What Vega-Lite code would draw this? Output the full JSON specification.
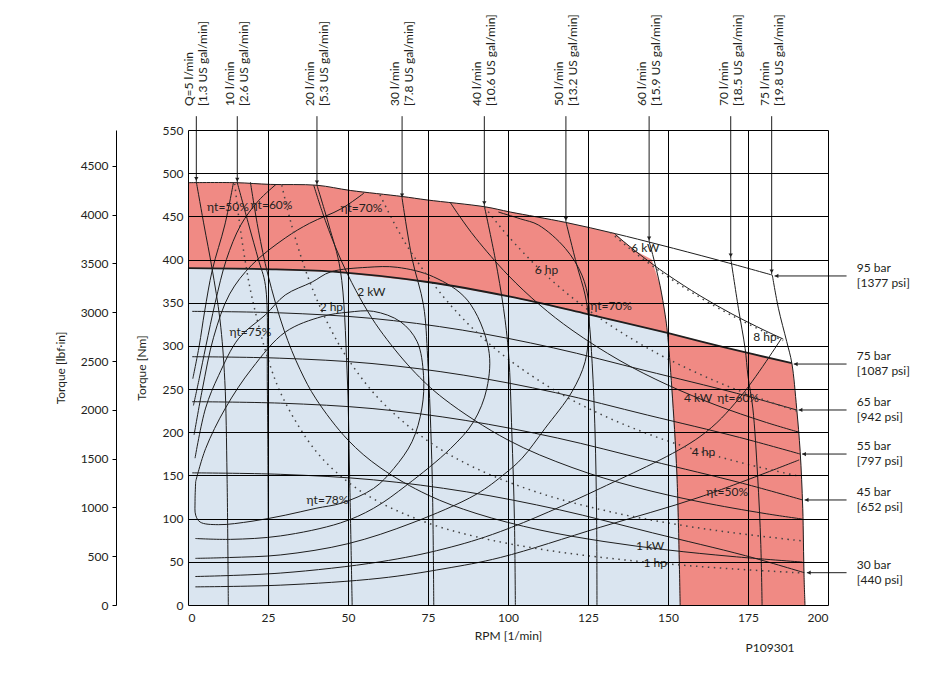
{
 "$schema": "https://vega.github.io/schema/vega-lite/v6.json",
 "autosize": {"type": "none"},
 "width": 640,
 "height": 475,
 "padding": {"left": 188, "top": 130, "right": 121, "bottom": 75},
 "background": "white",
 "config": {
  "view": {"stroke": null},
  "font": "Lato, Open Sans, sans-serif",
  "axis": {"labelFont": "Lato, Open Sans, sans-serif", "titleFont": "Lato, Open Sans, sans-serif", "labelFontSize": 12, "titleFontSize": 12, "titleFontWeight": "normal", "labelColor": "#231f20", "titleColor": "#231f20", "domainColor": "#000", "tickColor": "#000"},
  "text": {"font": "Lato, Open Sans, sans-serif", "fontSize": 12, "fill": "#231f20"}
 },
 "datasets": {
  "blue": [{"n":0,"T":0},{"n":0,"T":390},{"n":23.6,"T":389},{"n":45.4,"T":386},{"n":74.8,"T":374},{"n":100.7,"T":357},{"n":123.5,"T":338},{"n":149.8,"T":315},{"n":151.2,"T":251},{"n":152.8,"T":150},{"n":153.8,"T":0}],
  "red1": [{"n":0,"T":489},{"n":15,"T":489},{"n":25.7,"T":487},{"n":40.3,"T":486},{"n":50.7,"T":480},{"n":66.9,"T":473},{"n":74.7,"T":469},{"n":92.9,"T":461},{"n":100.7,"T":455},{"n":118,"T":443},{"n":133.5,"T":430},{"n":136,"T":421.3},{"n":140,"T":409.3},{"n":144.8,"T":400},{"n":147.5,"T":370},{"n":149.1,"T":336},{"n":149.8,"T":315},{"n":123.5,"T":338},{"n":100.7,"T":357},{"n":74.8,"T":374},{"n":45.4,"T":386},{"n":23.6,"T":389},{"n":0,"T":390}],
  "red2": [{"n":149.8,"T":315},{"n":168,"T":298},{"n":188.7,"T":280},{"n":190.2,"T":227.8},{"n":191.3,"T":177.5},{"n":192.1,"T":112},{"n":192.5,"T":34.7},{"n":192.8,"T":0},{"n":153.8,"T":0},{"n":152.8,"T":150},{"n":151.2,"T":251}],
  "bold": [{"n":0,"T":390},{"n":23.6,"T":389},{"n":45.4,"T":386},{"n":74.8,"T":374},{"n":100.7,"T":357},{"n":123.5,"T":338},{"n":149.8,"T":315},{"n":168,"T":298},{"n":188.7,"T":280}],
  "solid": [
   {"c":"p95","n":0,"T":489},{"c":"p95","n":15,"T":489},{"c":"p95","n":25.7,"T":487},{"c":"p95","n":40.3,"T":486},{"c":"p95","n":50.7,"T":480},{"c":"p95","n":66.9,"T":473},{"c":"p95","n":74.7,"T":469},{"c":"p95","n":92.9,"T":461},{"c":"p95","n":100.7,"T":455},{"c":"p95","n":118,"T":443},{"c":"p95","n":133.5,"T":430},{"c":"p95","n":147.5,"T":417},{"c":"p95","n":165,"T":400},{"c":"p95","n":182.6,"T":382},
   {"c":"p65","n":1.3,"T":340},{"c":"p65","n":28.6,"T":338.3},{"c":"p65","n":57.1,"T":332},{"c":"p65","n":85.7,"T":318.3},{"c":"p65","n":114.2,"T":297.7},{"c":"p65","n":142.8,"T":271.5},{"c":"p65","n":171.4,"T":245.2},{"c":"p65","n":190.2,"T":225.8},
   {"c":"p55","n":1.3,"T":287.5},{"c":"p55","n":28.7,"T":285.8},{"c":"p55","n":57.5,"T":279.6},{"c":"p55","n":86.2,"T":266.1},{"c":"p55","n":114.9,"T":245.8},{"c":"p55","n":143.6,"T":219.9},{"c":"p55","n":172.4,"T":194},{"c":"p55","n":191.3,"T":174.8},
   {"c":"p45","n":1.3,"T":235.4},{"c":"p45","n":28.9,"T":233.7},{"c":"p45","n":57.8,"T":227.4},{"c":"p45","n":86.6,"T":213.8},{"c":"p45","n":115.5,"T":193.3},{"c":"p45","n":144.4,"T":167.1},{"c":"p45","n":173.3,"T":140.9},{"c":"p45","n":192.1,"T":121.6},
   {"c":"p30","n":1.3,"T":153},{"c":"p30","n":29,"T":151.3},{"c":"p30","n":58,"T":144.9},{"c":"p30","n":87.1,"T":131},{"c":"p30","n":116.1,"T":110.2},{"c":"p30","n":145.1,"T":83.6},{"c":"p30","n":174.2,"T":57.1},{"c":"p30","n":192.6,"T":37.4},
   {"c":"q5","n":2.6,"T":490},{"c":"q5","n":5,"T":440},{"c":"q5","n":7.5,"T":390},{"c":"q5","n":10,"T":330},{"c":"q5","n":11.5,"T":260},{"c":"q5","n":12.2,"T":150},{"c":"q5","n":12.6,"T":0},
   {"c":"q10","n":15.4,"T":489},{"c":"q10","n":19,"T":440},{"c":"q10","n":22,"T":400},{"c":"q10","n":24.2,"T":370},{"c":"q10","n":24.8,"T":250},{"c":"q10","n":25.2,"T":0},
   {"c":"q20","n":40.3,"T":486},{"c":"q20","n":44,"T":440},{"c":"q20","n":47.6,"T":388},{"c":"q20","n":49.7,"T":272},{"c":"q20","n":50.5,"T":150},{"c":"q20","n":51.3,"T":0},
   {"c":"q30","n":66.9,"T":471},{"c":"q30","n":70,"T":401.5},{"c":"q30","n":73.6,"T":347},{"c":"q30","n":74.9,"T":285.7},{"c":"q30","n":76.3,"T":150.5},{"c":"q30","n":76.8,"T":0},
   {"c":"q40","n":92.6,"T":462},{"c":"q40","n":96,"T":401},{"c":"q40","n":98.6,"T":343.6},{"c":"q40","n":100.2,"T":290},{"c":"q40","n":101.2,"T":200},{"c":"q40","n":102,"T":100},{"c":"q40","n":102.3,"T":0},
   {"c":"q50","n":118.1,"T":443.8},{"c":"q50","n":121.5,"T":393.7},{"c":"q50","n":124.1,"T":359},{"c":"q50","n":125.3,"T":330},{"c":"q50","n":126.3,"T":280},{"c":"q50","n":127.2,"T":200},{"c":"q50","n":127.7,"T":100},{"c":"q50","n":127.8,"T":0},
   {"c":"q60","n":144.1,"T":421},{"c":"q60","n":145.4,"T":403},{"c":"q60","n":147.5,"T":370},{"c":"q60","n":149.1,"T":336},{"c":"q60","n":149.8,"T":316},{"c":"q60","n":151.2,"T":251},{"c":"q60","n":152.8,"T":150},{"c":"q60","n":153.8,"T":0},
   {"c":"q70","n":169.6,"T":401.5},{"c":"q70","n":172,"T":343.6},{"c":"q70","n":174.1,"T":297},{"c":"q70","n":175,"T":265},{"c":"q70","n":176.5,"T":228},{"c":"q70","n":178,"T":150},{"c":"q70","n":179,"T":70},{"c":"q70","n":179.4,"T":0},
   {"c":"q75","n":182.6,"T":382},{"c":"q75","n":184.5,"T":343.6},{"c":"q75","n":187.1,"T":305},{"c":"q75","n":188.7,"T":280},{"c":"q75","n":190.2,"T":227.8},{"c":"q75","n":191.3,"T":177.5},{"c":"q75","n":192.1,"T":112},{"c":"q75","n":192.5,"T":34.7},{"c":"q75","n":192.8,"T":0},
   {"c":"e50a","n":14.2,"T":489},{"c":"e50a","n":11.5,"T":440},{"c":"e50a","n":7.6,"T":388},{"c":"e50a","n":5.2,"T":340},{"c":"e50a","n":3.5,"T":300},{"c":"e50a","n":1.5,"T":262},
   {"c":"e60a","n":27.5,"T":487},{"c":"e60a","n":22,"T":468},{"c":"e60a","n":16.5,"T":440},{"c":"e60a","n":12,"T":400},{"c":"e60a","n":8.5,"T":350},{"c":"e60a","n":5.6,"T":300},{"c":"e60a","n":3.5,"T":262},{"c":"e60a","n":1.7,"T":231},
   {"c":"e70a","n":55,"T":477},{"c":"e70a","n":48,"T":459},{"c":"e70a","n":38,"T":442},{"c":"e70a","n":30.4,"T":425},{"c":"e70a","n":20,"T":394},{"c":"e70a","n":13,"T":360},{"c":"e70a","n":8,"T":310},{"c":"e70a","n":4.5,"T":250},{"c":"e70a","n":1.9,"T":197},
   {"c":"e75","n":2.2,"T":170},{"c":"e75","n":5.5,"T":228},{"c":"e75","n":9.6,"T":266},{"c":"e75","n":15.9,"T":309},{"c":"e75","n":24.2,"T":336},{"c":"e75","n":30.4,"T":359},{"c":"e75","n":38.8,"T":374},{"c":"e75","n":44.5,"T":385.6},{"c":"e75","n":56,"T":391},{"c":"e75","n":65.4,"T":391},{"c":"e75","n":76.7,"T":380},{"c":"e75","n":87.3,"T":353},{"c":"e75","n":93.9,"T":297},{"c":"e75","n":93.4,"T":251},{"c":"e75","n":89.2,"T":212},{"c":"e75","n":82,"T":181},{"c":"e75","n":68.4,"T":139},{"c":"e75","n":58,"T":112},{"c":"e75","n":47.6,"T":95},{"c":"e75","n":28.9,"T":80},{"c":"e75","n":13.3,"T":76},{"c":"e75","n":2.3,"T":77},
   {"c":"e78","n":2.4,"T":143},{"c":"e78","n":5.5,"T":181},{"c":"e78","n":11.7,"T":228},{"c":"e78","n":20,"T":274},{"c":"e78","n":30.4,"T":316},{"c":"e78","n":41.9,"T":334},{"c":"e78","n":50,"T":339},{"c":"e78","n":58,"T":340},{"c":"e78","n":66.4,"T":328},{"c":"e78","n":71.6,"T":305},{"c":"e78","n":73.6,"T":266},{"c":"e78","n":73.1,"T":228},{"c":"e78","n":70,"T":189},{"c":"e78","n":64.3,"T":158},{"c":"e78","n":58,"T":135},{"c":"e78","n":48,"T":118},{"c":"e78","n":40,"T":112},{"c":"e78","n":30.4,"T":104},{"c":"e78","n":20,"T":97},{"c":"e78","n":9.5,"T":93},{"c":"e78","n":3.8,"T":96},{"c":"e78","n":2.4,"T":104},{"c":"e78","n":2.2,"T":120},{"c":"e78","n":2.4,"T":143},
   {"c":"e70b","n":97,"T":455},{"c":"e70b","n":104,"T":447},{"c":"e70b","n":109.5,"T":440},{"c":"e70b","n":117.9,"T":413},{"c":"e70b","n":123.1,"T":382},{"c":"e70b","n":125.2,"T":351},{"c":"e70b","n":125.2,"T":316.5},{"c":"e70b","n":124.1,"T":281.7},{"c":"e70b","n":120,"T":247},{"c":"e70b","n":111.6,"T":204.6},{"c":"e70b","n":104.4,"T":170},{"c":"e70b","n":99,"T":152},{"c":"e70b","n":90,"T":128},{"c":"e70b","n":70,"T":95},{"c":"e70b","n":50,"T":71},{"c":"e70b","n":29,"T":58},{"c":"e70b","n":13,"T":55},{"c":"e70b","n":2.3,"T":54},
   {"c":"e60b","n":2.3,"T":33},{"c":"e60b","n":29,"T":37},{"c":"e60b","n":60,"T":50},{"c":"e60b","n":80,"T":65},{"c":"e60b","n":97.6,"T":85},{"c":"e60b","n":128.8,"T":135},{"c":"e60b","n":160,"T":195},{"c":"e60b","n":172.4,"T":240},{"c":"e60b","n":185.5,"T":309},
   {"c":"e50b","n":2.3,"T":21},{"c":"e50b","n":29,"T":23},{"c":"e50b","n":60,"T":31},{"c":"e50b","n":80,"T":42},{"c":"e50b","n":97.6,"T":55},{"c":"e50b","n":128.8,"T":90},{"c":"e50b","n":160,"T":125},{"c":"e50b","n":191,"T":168},
   {"c":"k1","n":19.5,"T":489.7},{"c":"k1","n":22,"T":434},{"c":"k1","n":25,"T":382},{"c":"k1","n":30,"T":318.3},{"c":"k1","n":35,"T":272.8},{"c":"k1","n":40,"T":238.7},{"c":"k1","n":50,"T":191},{"c":"k1","n":60,"T":159.2},{"c":"k1","n":75,"T":127.3},{"c":"k1","n":90,"T":106.1},{"c":"k1","n":110,"T":86.8},{"c":"k1","n":130,"T":73.5},{"c":"k1","n":150,"T":63.7},{"c":"k1","n":170,"T":56.2},{"c":"k1","n":192,"T":49.7},
   {"c":"k2","n":39.3,"T":486},{"c":"k2","n":42,"T":454.7},{"c":"k2","n":46,"T":415.2},{"c":"k2","n":50,"T":382},{"c":"k2","n":55,"T":347.3},{"c":"k2","n":60,"T":318.3},{"c":"k2","n":70,"T":272.8},{"c":"k2","n":80,"T":238.7},{"c":"k2","n":100,"T":191},{"c":"k2","n":120,"T":159.2},{"c":"k2","n":140,"T":136.4},{"c":"k2","n":160,"T":119.4},{"c":"k2","n":180,"T":106.1},{"c":"k2","n":192,"T":99.5},
   {"c":"k4","n":82,"T":465.8},{"c":"k4","n":85,"T":449.4},{"c":"k4","n":90,"T":424.4},{"c":"k4","n":100,"T":382},{"c":"k4","n":110,"T":347.2},{"c":"k4","n":120,"T":318.3},{"c":"k4","n":135,"T":282.9},{"c":"k4","n":150,"T":254.6},{"c":"k4","n":165,"T":231.5},{"c":"k4","n":180,"T":212.2},{"c":"k4","n":191,"T":200},
   {"c":"k6","n":133.5,"T":429.2},{"c":"k6","n":136,"T":421.3},{"c":"k6","n":140,"T":409.3},{"c":"k6","n":145,"T":395.1},{"c":"k6","n":150,"T":382},{"c":"k6","n":160,"T":358.1},{"c":"k6","n":170,"T":337},{"c":"k6","n":180,"T":318.3},{"c":"k6","n":186,"T":308}
  ],
  "dotted": [
   {"c":"h1","n":14.6,"T":487.7},{"c":"h1","n":16,"T":445},{"c":"h1","n":18,"T":395.6},{"c":"h1","n":20,"T":356},{"c":"h1","n":25,"T":284.8},{"c":"h1","n":30,"T":237.4},{"c":"h1","n":40,"T":178},{"c":"h1","n":50,"T":142.4},{"c":"h1","n":60,"T":118.7},{"c":"h1","n":75,"T":94.9},{"c":"h1","n":90,"T":79.1},{"c":"h1","n":110,"T":64.7},{"c":"h1","n":130,"T":54.8},{"c":"h1","n":150,"T":47.5},{"c":"h1","n":170,"T":41.9},{"c":"h1","n":192,"T":37.1},
   {"c":"h2","n":29.3,"T":486},{"c":"h2","n":32,"T":445},{"c":"h2","n":36,"T":395.6},{"c":"h2","n":40,"T":356},{"c":"h2","n":45,"T":316.5},{"c":"h2","n":50,"T":284.8},{"c":"h2","n":60,"T":237.4},{"c":"h2","n":75,"T":189.9},{"c":"h2","n":90,"T":158.2},{"c":"h2","n":110,"T":129.5},{"c":"h2","n":130,"T":109.6},{"c":"h2","n":150,"T":94.9},{"c":"h2","n":170,"T":83.8},{"c":"h2","n":192,"T":74.2},
   {"c":"h4","n":60,"T":474.8},{"c":"h4","n":65,"T":438.2},{"c":"h4","n":70,"T":406.9},{"c":"h4","n":80,"T":356.1},{"c":"h4","n":90,"T":316.5},{"c":"h4","n":100,"T":284.9},{"c":"h4","n":115,"T":247.7},{"c":"h4","n":130,"T":219.1},{"c":"h4","n":145,"T":196.4},{"c":"h4","n":160,"T":178},{"c":"h4","n":175,"T":162.8},{"c":"h4","n":191,"T":149.1},
   {"c":"h6","n":92.7,"T":460.9},{"c":"h6","n":96,"T":445.1},{"c":"h6","n":100,"T":427.3},{"c":"h6","n":110,"T":388.4},{"c":"h6","n":120,"T":356.1},{"c":"h6","n":130,"T":328.7},{"c":"h6","n":140,"T":305.2},{"c":"h6","n":150,"T":284.8},{"c":"h6","n":165,"T":259},{"c":"h6","n":180,"T":237.4},{"c":"h6","n":191,"T":223.7},
   {"c":"h8","n":132,"T":431.6},{"c":"h8","n":136,"T":418.9},{"c":"h8","n":140,"T":406.9},{"c":"h8","n":145,"T":392.9},{"c":"h8","n":150,"T":379.8},{"c":"h8","n":160,"T":356.1},{"c":"h8","n":170,"T":335.1},{"c":"h8","n":180,"T":316.5},{"c":"h8","n":186,"T":306.3}
  ],
  "labels": [
   {"n":12.5,"T":461,"t":"ηt=50%"},{"n":26.1,"T":463,"t":"ηt=60%"},{"n":54.2,"T":459.7,"t":"ηt=70%"},
   {"n":57.3,"T":362.4,"t":"2 kW"},{"n":44.8,"T":345,"t":"2 hp"},{"n":19.5,"T":316,"t":"ηt=75%"},
   {"n":43.6,"T":121.6,"t":"ηt=78%"},{"n":112,"T":388,"t":"6 hp"},{"n":132.2,"T":346,"t":"ηt=70%"},
   {"n":142.9,"T":413.4,"t":"6 kW"},{"n":180.3,"T":310.3,"t":"8 hp"},{"n":159.4,"T":239.7,"t":"4 kW"},
   {"n":171.9,"T":239.7,"t":"ηt=60%"},{"n":161.1,"T":177.2,"t":"4 hp"},{"n":168.5,"T":130.8,"t":"ηt=50%"},
   {"n":144.4,"T":68.7,"t":"1 kW"},{"n":146,"T":48.6,"t":"1 hp"},{"n":181.9,"T":-50,"t":"P109301"}
  ],
  "top": [
   {"n":2.6,"T":490,"l1":"Q=5 l/min","l2":"[1.3 US gal/min]"},
   {"n":15.4,"T":489,"l1":"10 l/min","l2":"[2.6 US gal/min]"},
   {"n":40.3,"T":486,"l1":"20 l/min","l2":"[5.3 US gal/min]"},
   {"n":66.9,"T":471,"l1":"30 l/min","l2":"[7.8 US gal/min]"},
   {"n":92.6,"T":462,"l1":"40 l/min","l2":"[10.6 US gal/min]"},
   {"n":118.1,"T":443.8,"l1":"50 l/min","l2":"[13.2 US gal/min]"},
   {"n":144.1,"T":421,"l1":"60 l/min","l2":"[15.9 US gal/min]"},
   {"n":169.6,"T":401.5,"l1":"70 l/min","l2":"[18.5 US gal/min]"},
   {"n":182.4,"T":383,"l1":"75 l/min","l2":"[19.8 US gal/min]"}
  ],
  "right": [
   {"n":183.3,"T":381,"l1":"95 bar","l2":"[1377 psi]"},
   {"n":189.3,"T":279,"l1":"75 bar","l2":"[1087 psi]"},
   {"n":190.8,"T":225.8,"l1":"65 bar","l2":"[942 psi]"},
   {"n":191.9,"T":174.8,"l1":"55 bar","l2":"[797 psi]"},
   {"n":192.7,"T":121.6,"l1":"45 bar","l2":"[652 psi]"},
   {"n":193.4,"T":37.4,"l1":"30 bar","l2":"[440 psi]"}
  ]
 },
 "layer": [
  {
   "layer": [
    {
     "data": {"name": "blue"},
     "mark": {"type": "line", "fill": "#dae5f0", "stroke": "#dae5f0", "strokeWidth": 0.5},
     "encoding": {
      "x": {"field": "n", "type": "quantitative", "scale": {"domain": [0, 200], "nice": false, "zero": false},
            "axis": {"title": "RPM [1/min]", "values": [0,25,50,75,100,125,150,175,200], "grid": true, "gridColor": "#000", "gridOpacity": 1, "gridWidth": 1, "tickSize": 0, "labelPadding": 7, "domain": false, "titlePadding": 7, "zindex": 1}},
      "y": {"field": "T", "type": "quantitative", "scale": {"domain": [0, 550], "nice": false},
            "axis": {"title": "Torque [Nm]", "values": [0,50,100,150,200,250,300,350,400,450,500,550], "grid": true, "gridColor": "#000", "gridOpacity": 1, "gridWidth": 1, "tickSize": 0, "labelPadding": 5, "domain": false, "titlePadding": 14, "zindex": 1}},
      "order": {"value": null}
     }
    },
    {
     "data": {"name": "red1"},
     "mark": {"type": "line", "fill": "#f08a84", "stroke": "#f08a84", "strokeWidth": 0.5},
     "encoding": {"x": {"field": "n", "type": "quantitative"}, "y": {"field": "T", "type": "quantitative"}, "order": {"value": null}}
    },
    {
     "data": {"name": "red2"},
     "mark": {"type": "line", "fill": "#f08a84", "stroke": "#f08a84", "strokeWidth": 0.5},
     "encoding": {"x": {"field": "n", "type": "quantitative"}, "y": {"field": "T", "type": "quantitative"}, "order": {"value": null}}
    },
    {
     "data": {"name": "solid"},
     "mark": {"type": "line", "stroke": "#1e1e1e", "strokeWidth": 1, "interpolate": "catmull-rom"},
     "encoding": {"x": {"field": "n", "type": "quantitative"}, "y": {"field": "T", "type": "quantitative"}, "detail": {"field": "c", "type": "nominal"}, "order": {"value": null}}
    },
    {
     "data": {"name": "dotted"},
     "mark": {"type": "line", "stroke": "#444", "strokeWidth": 1.5, "strokeDash": [1.5, 4.5], "interpolate": "catmull-rom"},
     "encoding": {"x": {"field": "n", "type": "quantitative"}, "y": {"field": "T", "type": "quantitative"}, "detail": {"field": "c", "type": "nominal"}, "order": {"value": null}}
    },
    {
     "data": {"name": "bold"},
     "mark": {"type": "line", "stroke": "#1e1e1e", "strokeWidth": 1.8, "interpolate": "catmull-rom"},
     "encoding": {"x": {"field": "n", "type": "quantitative"}, "y": {"field": "T", "type": "quantitative"}, "order": {"value": null}}
    },
    {
     "data": {"name": "top"},
     "mark": {"type": "rule", "stroke": "#1e1e1e", "strokeWidth": 1},
     "encoding": {"x": {"field": "n", "type": "quantitative"}, "y": {"field": "T", "type": "quantitative"}, "y2": {"datum": 566}}
    },
    {
     "data": {"name": "top"},
     "mark": {"type": "point", "shape": "triangle-down", "size": 18, "filled": true, "color": "#1e1e1e", "opacity": 1, "yOffset": -3},
     "encoding": {"x": {"field": "n", "type": "quantitative"}, "y": {"field": "T", "type": "quantitative"}}
    },
    {
     "data": {"name": "right"},
     "mark": {"type": "rule", "stroke": "#1e1e1e", "strokeWidth": 1},
     "encoding": {"x": {"field": "n", "type": "quantitative"}, "x2": {"datum": 205.8}, "y": {"field": "T", "type": "quantitative"}}
    },
    {
     "data": {"name": "right"},
     "mark": {"type": "point", "shape": "triangle-left", "size": 18, "filled": true, "color": "#1e1e1e", "opacity": 1, "xOffset": 2},
     "encoding": {"x": {"field": "n", "type": "quantitative"}, "y": {"field": "T", "type": "quantitative"}}
    },
    {
     "data": {"name": "labels"},
     "mark": {"type": "text", "align": "center", "baseline": "middle"},
     "encoding": {"x": {"field": "n", "type": "quantitative"}, "y": {"field": "T", "type": "quantitative"}, "text": {"field": "t", "type": "nominal"}}
    },
    {
     "data": {"name": "top"},
     "mark": {"type": "text", "angle": 270, "align": "left", "baseline": "middle", "dy": -7},
     "encoding": {"x": {"field": "n", "type": "quantitative"}, "y": {"datum": 577.8, "type": "quantitative"}, "text": {"field": "l1", "type": "nominal"}}
    },
    {
     "data": {"name": "top"},
     "mark": {"type": "text", "angle": 270, "align": "left", "baseline": "middle", "dy": 7},
     "encoding": {"x": {"field": "n", "type": "quantitative"}, "y": {"datum": 577.8, "type": "quantitative"}, "text": {"field": "l2", "type": "nominal"}}
    },
    {
     "data": {"name": "right"},
     "mark": {"type": "text", "align": "left", "baseline": "middle", "dy": -8},
     "encoding": {"x": {"datum": 209, "type": "quantitative"}, "y": {"field": "T", "type": "quantitative"}, "text": {"field": "l1", "type": "nominal"}}
    },
    {
     "data": {"name": "right"},
     "mark": {"type": "text", "align": "left", "baseline": "middle", "dy": 7},
     "encoding": {"x": {"datum": 209, "type": "quantitative"}, "y": {"field": "T", "type": "quantitative"}, "text": {"field": "l2", "type": "nominal"}}
    }
   ]
  },
  {
   "data": {"values": [{"v": 0}]},
   "mark": {"type": "point", "opacity": 0},
   "encoding": {
    "y": {"field": "v", "type": "quantitative", "scale": {"domain": [0, 4867.9], "nice": false},
          "axis": {"orient": "left", "offset": 72, "title": "Torque [lbf·in]", "format": "d", "values": [0,500,1000,1500,2000,2500,3000,3500,4000,4500], "grid": false, "domain": true, "ticks": true, "tickSize": 4, "labelPadding": 4, "titlePadding": 13}}
   }
  }
 ],
 "resolve": {"scale": {"y": "independent"}}
}
